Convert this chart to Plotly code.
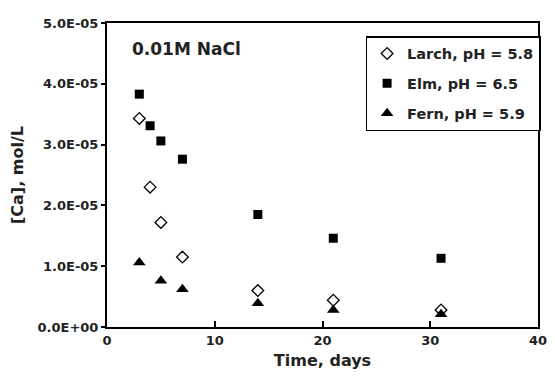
import plotly.graph_objects as go

days_larch = [3, 4, 5, 7, 14, 21, 31]
larch = [3.43e-5, 2.30e-5, 1.72e-5, 1.15e-5, 0.60e-5, 0.44e-5, 0.28e-5]
days_elm = [3, 4, 5, 7, 14, 21, 31]
elm = [3.83e-5, 3.31e-5, 3.06e-5, 2.76e-5, 1.85e-5, 1.46e-5, 1.13e-5]
days_fern = [3, 5, 7, 14, 21, 31]
fern = [1.06e-5, 0.76e-5, 0.62e-5, 0.39e-5, 0.28e-5, 0.21e-5]

y_ticks = [0, 1e-5, 2e-5, 3e-5, 4e-5, 5e-5]
y_ticklabels = ["0.0E+00", "1.0E-05", "2.0E-05", "3.0E-05", "4.0E-05", "5.0E-05"]
x_ticks = [0, 10, 20, 30, 40]

FONT = "'DejaVu Sans', Arial, sans-serif"

fig = go.Figure()
fig.add_trace(go.Scatter(x=days_larch, y=larch, mode="markers", name="<b>Larch, pH = 5.8</b>",
                         legendgroup="a",
                         marker=dict(symbol="diamond-open", size=9, color="black", line=dict(width=1.3))))
fig.add_trace(go.Scatter(x=days_elm, y=elm, mode="markers", name="<b>Elm, pH = 6.5</b>",
                         legendgroup="b",
                         marker=dict(symbol="square", size=9, color="black")))
fig.add_trace(go.Scatter(x=days_fern, y=fern, mode="markers", name="<b>Fern, pH = 5.9</b>",
                         legendgroup="c",
                         marker=dict(symbol="triangle-up", size=11, color="black")))

# page body has an 8px margin, so the figure is sized/offset to compensate
fig.update_layout(
    width=547, height=372,
    margin=dict(l=96, r=8, t=15, b=53),
    paper_bgcolor="white", plot_bgcolor="white",
    font=dict(family=FONT, size=13, color="#222"),
    showlegend=True,
    legend=dict(x=0.6, y=0.957, xanchor="left", yanchor="top",
                bordercolor="black", borderwidth=1.5, bgcolor="white",
                font=dict(size=14.5, family=FONT, color="#222"),
                traceorder="grouped", tracegroupgap=8,
                itemwidth=30),
    xaxis=dict(range=[0, 40], tickvals=x_ticks, ticktext=["<b>%d</b>" % v for v in x_ticks],
               showgrid=False, zeroline=False, showline=True, linecolor="black", linewidth=2,
               mirror=True, ticks="inside", ticklen=6, tickwidth=1.5, tickcolor="black",
               tickfont=dict(size=13), ticklabeloverflow="allow",
               title=dict(text="<b>Time, days</b>", font=dict(size=16), standoff=8)),
    yaxis=dict(range=[0, 5e-5], tickvals=y_ticks, ticktext=["<b>%s</b>" % t for t in y_ticklabels],
               showgrid=False, zeroline=False, showline=True, linecolor="black", linewidth=2,
               mirror=True, ticks="outside", ticklen=4, tickwidth=1.5, tickcolor="black",
               tickfont=dict(size=13), ticklabeloverflow="allow",
               title=dict(text="<b>[Ca], mol/L</b>", font=dict(size=16), standoff=10)),
    annotations=[dict(text="<b>0.01M NaCl</b>", x=0.054, y=0.914, xref="paper", yref="paper",
                      xanchor="left", yanchor="middle", showarrow=False,
                      font=dict(size=17, family=FONT, color="#222"))],
)

fig.write_html("out.html")
